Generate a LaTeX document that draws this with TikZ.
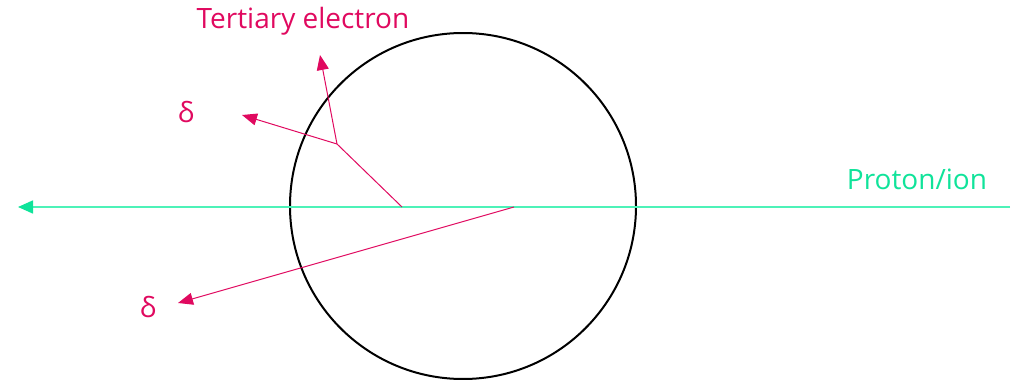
\documentclass[tikz,border=0pt]{standalone}
\usepackage{fontspec}
\setmainfont{Open Sans}
\usetikzlibrary{arrows.meta}
\definecolor{mag}{HTML}{E0095F}
\definecolor{grn}{HTML}{4DF2B8}
\definecolor{grntxt}{HTML}{10E39A}
\tikzset{
  magline/.style={draw=mag, line width=1pt, -{Triangle[length=15pt,width=12pt]}},
  magplain/.style={draw=mag, line width=1pt},
  grnline/.style={draw=grn, line width=1.6pt, -{Triangle[length=15pt,width=13pt,color=grntxt]}},
  lbl/.style={inner sep=0pt, font=\fontsize{28}{32}\selectfont},
}
\begin{document}
\begin{tikzpicture}[x=1pt,y=-1pt]
\useasboundingbox (0,0) rectangle (1013,380);
\node[draw, circle, line width=2pt, minimum size=346pt, inner sep=0pt] (c) at (463,206) {};
\coordinate (pstart) at (1010,207);
\coordinate (pend) at (18,207);
\draw[grnline] (pstart) -- (pend);
\coordinate (d1s) at (514,207);
\coordinate (d1e) at (178,303);
\draw[magline] (d1s) -- (d1e);
\coordinate (d2s) at (402,207);
\coordinate (j) at (337,144);
\coordinate (d2e) at (242,115);
\coordinate (te) at (320,55);
\draw[magplain] (d2s) -- (j);
\draw[magline] (j) -- (d2e);
\draw[magline] (j) -- (te);
\node[lbl, text=mag] (tl) at (303,21) {Tertiary electron};
\node[lbl, text=mag] (dl1) at (186,112) {δ};
\node[lbl, text=mag] (dl2) at (148,307) {δ};
\node[lbl, text=grntxt] (pl) at (917,179) {Proton/ion};
\end{tikzpicture}
\end{document}
